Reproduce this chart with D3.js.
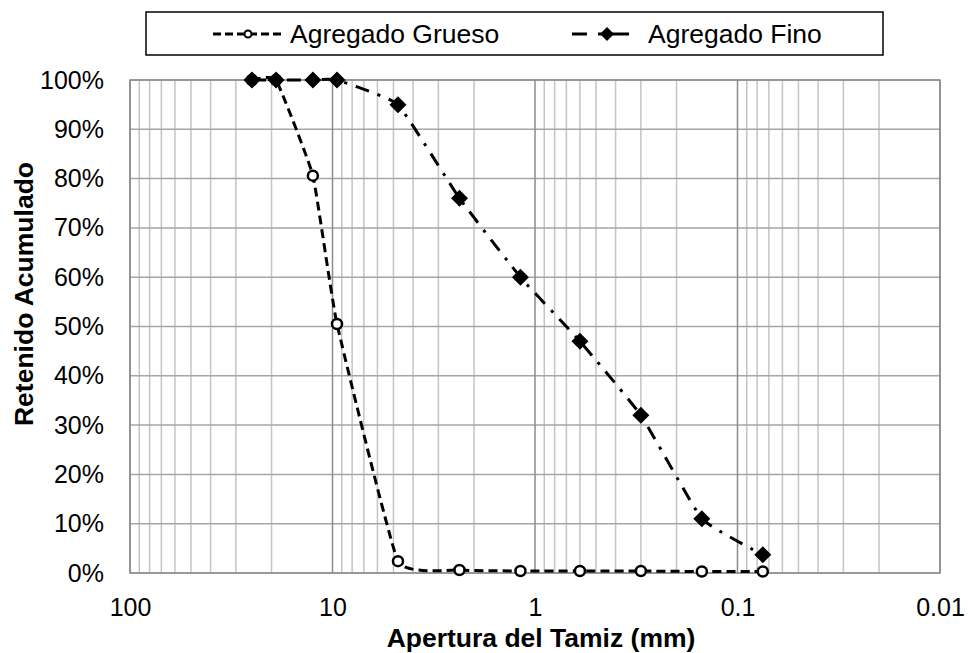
<!DOCTYPE html>
<html>
<head>
<meta charset="utf-8">
<script src="https://cdn.jsdelivr.net/npm/d3@7"></script>
<style>
  body { margin: 0; background: #fff; }
  svg { font-family: "Liberation Sans", Arial, sans-serif; }
</style>
</head>
<body>
<svg width="969" height="653"></svg>
<script>
// sieve openings (mm) and cumulative retained (%)
const sieves = [25, 19, 12.5, 9.5, 4.75, 2.36, 1.18, 0.6, 0.3, 0.15, 0.075];
const grueso = [100, 100, 80.6, 50.5, 2.4, 0.6, 0.4, 0.4, 0.4, 0.3, 0.3];
const fino = [100, 100, 100, 100, 95, 76, 60, 47, 32, 11, 3.7];
const xTicks = [100, 10, 1, 0.1, 0.01];
const yTicks = [0, 10, 20, 30, 40, 50, 60, 70, 80, 90, 100];

const svg = d3.select("svg");
const L = 130, R = 940, T = 80, B = 573;

const x = d3.scaleLog().domain([100, 0.01]).range([L, R]);
const y = d3.scaleLinear().domain([0, 100]).range([B, T]);

// minor vertical grid
const minor = [];
[0.01, 0.1, 1, 10].forEach(d => { for (let k = 2; k <= 9; k++) minor.push(d * k); });

const grid = svg.append("g");
grid.selectAll(".mv").data(minor).enter().append("line")
  .attr("x1", d => x(d)).attr("x2", d => x(d))
  .attr("y1", T).attr("y2", B)
  .attr("stroke", "#c4c4c4").attr("stroke-width", 1.5);

grid.selectAll(".hy").data(yTicks).enter().append("line")
  .attr("x1", L).attr("x2", R)
  .attr("y1", d => y(d)).attr("y2", d => y(d))
  .attr("stroke", "#a6a6a6").attr("stroke-width", 1.5);

grid.selectAll(".mj").data(xTicks).enter().append("line")
  .attr("x1", d => x(d)).attr("x2", d => x(d))
  .attr("y1", T).attr("y2", B)
  .attr("stroke", "#8c8c8c").attr("stroke-width", 1.5);

svg.append("rect").attr("x", L).attr("y", T).attr("width", R - L).attr("height", B - T)
  .attr("fill", "none").attr("stroke", "#8c8c8c").attr("stroke-width", 1.5);

// axes
const yAxis = svg.append("g").attr("transform", `translate(${L},0)`)
  .call(d3.axisLeft(y).tickValues(yTicks).tickSize(0).tickPadding(26).tickFormat(d => d + "%"));
const xAxis = svg.append("g").attr("transform", `translate(0,${B})`)
  .call(d3.axisBottom(x).tickValues(xTicks).tickSize(0).tickPadding(25).tickFormat(d => String(d)));
[yAxis, xAxis].forEach(a => {
  a.select(".domain").remove();
  a.selectAll("text").attr("font-size", 25).attr("fill", "#000")
    .attr("font-family", "Liberation Sans, Arial, sans-serif");
});

svg.append("text").attr("x", 541).attr("y", 647).attr("text-anchor", "middle")
  .attr("font-size", 26.5).attr("font-weight", "bold").text("Apertura del Tamiz (mm)");
svg.append("text").attr("transform", "translate(33,294) rotate(-90)").attr("text-anchor", "middle")
  .attr("font-size", 26.5).attr("font-weight", "bold").text("Retenido Acumulado");

// lines (light smoothing)
const line = d3.line().x(d => x(d[0])).y(d => y(d[1])).curve(d3.curveCardinal.tension(0.65));
const gData = sieves.map((s, i) => [s, grueso[i]]);
const fData = sieves.map((s, i) => [s, fino[i]]);

svg.append("path").attr("d", line(gData)).attr("fill", "none")
  .attr("stroke", "#000").attr("stroke-width", 3).attr("stroke-dasharray", "9,5");
svg.selectAll(".gp").data(gData).enter().append("circle")
  .attr("cx", d => x(d[0])).attr("cy", d => y(d[1])).attr("r", 5)
  .attr("fill", "#fff").attr("stroke", "#000").attr("stroke-width", 2.5);

svg.append("path").attr("d", line(fData)).attr("fill", "none")
  .attr("stroke", "#000").attr("stroke-width", 3).attr("stroke-dasharray", "14,9,3,9");
const diamond = "M0,-8.5L8.5,0L0,8.5L-8.5,0Z";
svg.selectAll(".fp").data(fData).enter().append("path")
  .attr("d", diamond)
  .attr("transform", d => `translate(${x(d[0])},${y(d[1])})`)
  .attr("fill", "#000");

// legend
const lg = svg.append("g");
lg.append("rect").attr("x", 146).attr("y", 12).attr("width", 737).attr("height", 43)
  .attr("fill", "#fff").attr("stroke", "#000").attr("stroke-width", 1.5);
lg.append("line").attr("x1", 213).attr("x2", 284).attr("y1", 34).attr("y2", 34)
  .attr("stroke", "#000").attr("stroke-width", 3).attr("stroke-dasharray", "8,4");
lg.append("circle").attr("cx", 248).attr("cy", 34).attr("r", 3.5)
  .attr("fill", "#fff").attr("stroke", "#000").attr("stroke-width", 2);
lg.append("text").attr("x", 290).attr("y", 43).attr("font-size", 26.5).text("Agregado Grueso");
lg.append("line").attr("x1", 572).attr("x2", 629).attr("y1", 34).attr("y2", 34)
  .attr("stroke", "#000").attr("stroke-width", 3).attr("stroke-dasharray", "15,11,31");
lg.append("path").attr("d", "M0,-7L7,0L0,7L-7,0Z").attr("transform", "translate(607,34)").attr("fill", "#000");
lg.append("text").attr("x", 648).attr("y", 43).attr("font-size", 26.5).text("Agregado Fino");
</script>
</body>
</html>
